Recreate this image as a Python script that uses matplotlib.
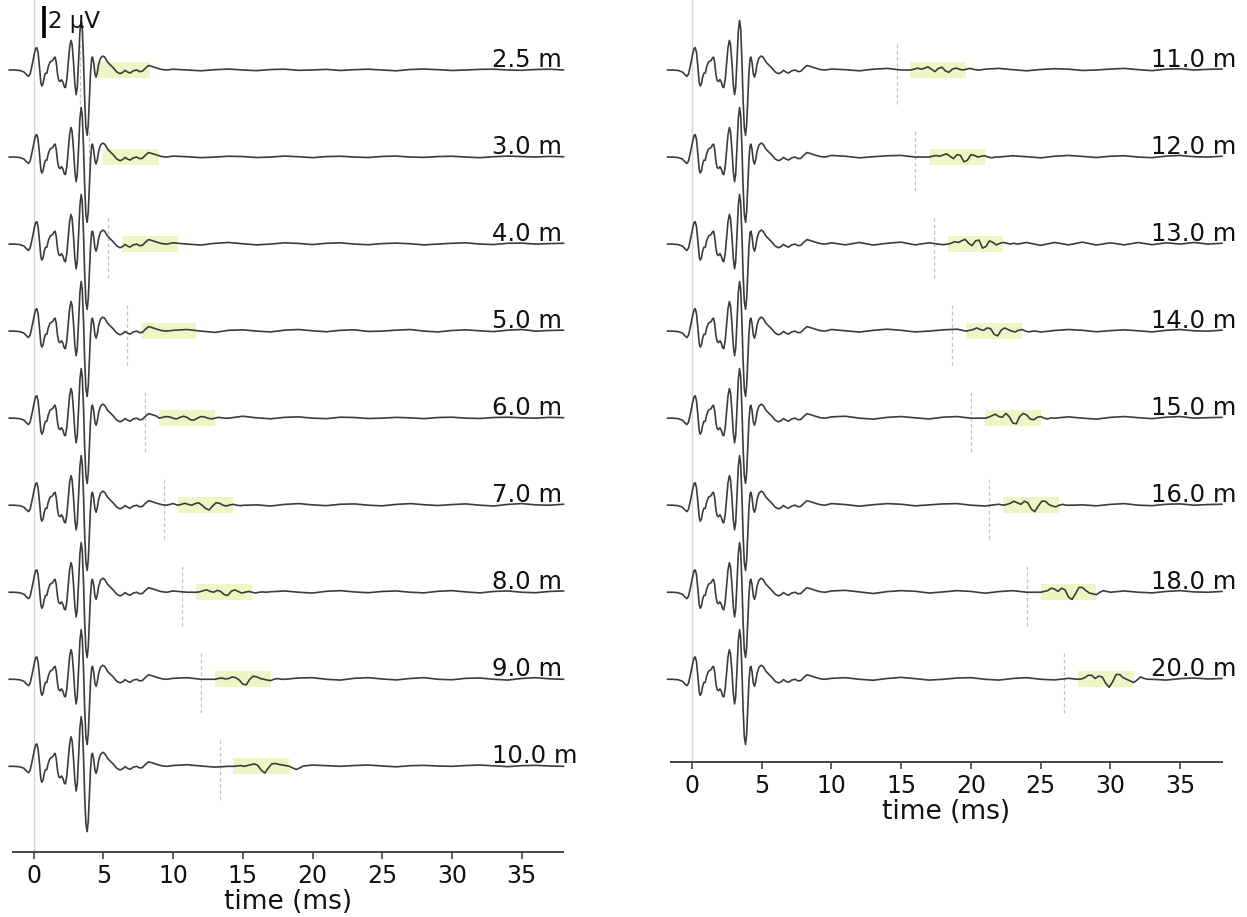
import numpy as np
import matplotlib.pyplot as plt
from matplotlib.patches import Rectangle

############################# settings ##################################
SOUND_SPEED = 1.5   # m/ms, echo delay = 2*d/c
OFFSET = 5.44       # uV between stacked traces
TRACE_COLOR = '#3c3c3c'
BOX_COLOR = '#eef6c6'

left_dist = [2.5, 3.0, 4.0, 5.0, 6.0, 7.0, 8.0, 9.0, 10.0]
right_dist = [11.0, 12.0, 13.0, 14.0, 15.0, 16.0, 18.0, 20.0]

############################# direct response (same on every trace) #####
direct_t = [-1.75, -1.4, -1.0, -0.7, -0.5, -0.37, -0.25, -0.1, 0.05, 0.15,
            0.23, 0.32, 0.42, 0.52, 0.59, 0.68, 0.76, 0.85, 0.95, 1.05,
            1.18, 1.28, 1.37, 1.46, 1.54, 1.62, 1.72, 1.8, 1.9, 2.0,
            2.1, 2.2, 2.28, 2.38, 2.48, 2.58, 2.68, 2.76, 2.86, 2.96,
            3.05, 3.13, 3.22, 3.32, 3.41, 3.49, 3.58, 3.66, 3.75, 3.84,
            3.92, 4.0, 4.08, 4.16, 4.22, 4.3, 4.4, 4.48, 4.56, 4.66,
            4.8, 4.96, 5.1, 5.3, 5.5, 5.7, 5.96, 6.2, 6.4, 6.56,
            6.72, 6.92, 7.15, 7.4, 7.6, 7.8, 8.0, 8.24, 8.5, 8.84,
            9.2, 9.56]
direct_uv = [0.0, 0.0, -0.03, -0.12, -0.3, -0.4, -0.25, 0.35, 1.0, 1.35,
             1.4, 1.1, 0.2, -0.8, -1.0, -0.85, -0.45, -0.2, -0.2, 0.2,
             0.5, 0.55, 0.6, 0.75, 0.81, 0.5, -0.3, -0.65, -0.72, -0.6,
             -0.75, -1.05, -1.1, -0.6, 0.4, 1.4, 1.85, 1.6, 0.5, -0.9,
             -1.54, -1.1, 0.5, 2.4, 3.1, 2.6, 0.6, -1.8, -3.6, -4.08,
             -3.4, -1.8, -0.2, 0.7, 0.81, 0.5, -0.25, -0.44, -0.2, 0.35,
             0.75, 0.875, 0.8, 0.5, 0.32, 0.15, -0.12, -0.23, -0.15, -0.02,
             -0.12, -0.19, -0.05, 0.0, -0.1, -0.08, 0.1, 0.28, 0.22, 0.12,
             0.03, 0.0]

############################# background (10..38 ms, 1 ms step) ##########
noise_t = list(range(10, 39))
noise_uv = {
    2.5:  [0.05, 0.0, -0.05, 0.02, 0.06, 0.0, -0.04, 0.03, 0.05, -0.02, 0.0, 0.04, -0.03, 0.02, 0.05, 0.0, -0.05, 0.03, 0.06, 0.02, -0.03, 0.0, 0.04, 0.05, 0.0, -0.02, 0.03, 0.05, 0.0],
    3.0:  [0.06, 0.02, -0.04, 0.0, 0.05, 0.03, -0.03, 0.0, 0.06, 0.02, -0.04, 0.03, 0.05, 0.0, -0.03, 0.04, 0.06, 0.0, -0.02, 0.03, 0.05, 0.0, -0.04, 0.02, 0.06, 0.03, 0.0, 0.04, 0.02],
    4.0:  [0.08, 0.0, -0.06, 0.05, 0.1, 0.02, -0.05, 0.0, 0.08, 0.04, -0.03, 0.05, 0.08, 0.0, -0.04, 0.03, 0.06, 0.02, -0.05, 0.0, 0.05, 0.08, 0.0, -0.03, 0.05, 0.06, 0.0, 0.03, 0.05],
    5.0:  [0.05, 0.1, 0.0, -0.08, 0.05, 0.08, 0.0, -0.05, 0.06, 0.1, 0.02, -0.04, 0.05, 0.08, -0.02, 0.0, 0.06, 0.1, 0.0, -0.05, 0.04, 0.08, 0.02, -0.03, 0.06, 0.1, 0.0, 0.04, 0.06],
    6.0:  [0.05, 0.08, 0.02, -0.05, 0.1, 0.12, 0.02, -0.04, 0.05, 0.08, 0.0, -0.03, 0.06, 0.04, -0.02, 0.0, 0.05, 0.02, -0.03, 0.04, 0.06, 0.0, -0.02, 0.04, 0.06, 0.02, 0.0, 0.05, 0.03],
    7.0:  [0.1, 0.05, -0.05, 0.0, 0.08, 0.1, 0.02, -0.05, 0.05, 0.1, 0.02, -0.03, 0.06, 0.08, 0.0, -0.04, 0.05, 0.1, 0.03, -0.02, 0.04, 0.08, 0.0, -0.05, 0.05, 0.1, 0.02, 0.0, 0.06],
    8.0:  [0.08, 0.0, -0.06, 0.05, 0.1, 0.02, -0.05, 0.03, 0.08, 0.0, -0.05, 0.06, 0.1, 0.02, -0.03, 0.05, 0.08, 0.0, -0.04, 0.06, 0.1, 0.02, -0.04, 0.05, 0.08, 0.0, -0.03, 0.05, 0.08],
    9.0:  [0.06, 0.1, 0.0, -0.08, 0.04, 0.1, 0.05, -0.04, 0.0, 0.08, 0.1, 0.0, -0.05, 0.06, 0.1, 0.02, -0.04, 0.05, 0.1, 0.0, -0.03, 0.06, 0.08, 0.0, -0.05, 0.05, 0.1, 0.03, 0.0],
    10.0: [0.05, 0.1, 0.02, -0.05, 0.0, 0.06, 0.1, 0.05, -0.03, 0.05, 0.08, 0.04, 0.0, 0.05, 0.08, 0.02, -0.03, 0.04, 0.06, 0.02, 0.0, 0.05, 0.08, 0.03, -0.02, 0.04, 0.06, 0.02, 0.0],
    11.0: [0.06, 0.02, -0.05, 0.05, 0.1, 0.0, -0.06, 0.04, 0.08, 0.02, -0.04, 0.05, 0.1, 0.02, -0.05, 0.03, 0.08, 0.05, -0.03, 0.0, 0.06, 0.1, 0.02, -0.04, 0.05, 0.08, 0.0, 0.04, 0.06],
    12.0: [0.1, 0.05, -0.05, 0.02, 0.08, 0.1, 0.0, -0.05, 0.06, 0.1, 0.03, -0.04, 0.04, 0.08, 0.02, -0.05, 0.05, 0.1, 0.04, -0.03, 0.05, 0.08, 0.0, -0.04, 0.06, 0.1, 0.02, 0.0, 0.05],
    13.0: [0.08, -0.05, 0.1, -0.06, 0.05, 0.12, -0.05, 0.08, -0.04, 0.1, -0.06, 0.08, 0.12, -0.04, 0.1, -0.08, 0.1, -0.05, 0.12, -0.06, 0.08, -0.05, 0.1, -0.04, 0.08, 0.0, 0.1, 0.0, 0.05],
    14.0: [0.1, 0.02, -0.06, 0.05, 0.12, 0.05, -0.05, 0.0, 0.08, 0.12, 0.02, -0.05, 0.05, 0.1, 0.0, -0.06, 0.04, 0.1, 0.05, -0.04, 0.03, 0.08, 0.02, -0.05, 0.05, 0.1, 0.02, 0.0, 0.06],
    15.0: [0.08, 0.12, 0.0, -0.06, 0.05, 0.1, 0.02, -0.05, 0.06, 0.1, 0.0, -0.05, 0.04, 0.1, 0.05, -0.04, 0.05, 0.08, 0.0, -0.06, 0.05, 0.1, 0.03, -0.03, 0.06, 0.1, 0.0, 0.03, 0.05],
    16.0: [0.1, 0.04, -0.06, 0.03, 0.1, 0.06, -0.04, 0.02, 0.08, 0.1, 0.0, -0.05, 0.06, 0.1, 0.02, -0.05, 0.04, 0.08, 0.02, -0.04, 0.05, 0.1, 0.0, -0.03, 0.06, 0.08, 0.0, 0.04, 0.06],
    18.0: [0.08, 0.12, 0.02, -0.08, 0.04, 0.1, 0.06, -0.05, 0.02, 0.1, 0.05, -0.06, 0.04, 0.1, 0.0, -0.05, 0.05, 0.1, 0.02, -0.05, 0.04, 0.08, 0.0, -0.04, 0.05, 0.1, 0.02, 0.0, 0.05],
    20.0: [0.06, 0.1, 0.0, -0.06, 0.05, 0.12, 0.04, -0.05, 0.0, 0.08, 0.1, 0.0, -0.05, 0.05, 0.1, 0.0, -0.04, 0.06, 0.12, 0.02, -0.03, 0.05, 0.1, 0.0, -0.05, 0.04, 0.08, 0.02, 0.05],
}

############################# echo wavelets (time after echo delay) ######
echo_rel_t = [1.0, 1.25, 1.5, 1.75, 2.0, 2.25, 2.5, 2.75, 3.0, 3.25, 3.5,
              3.75, 4.0, 4.25, 4.5, 4.75, 5.0, 5.25, 5.5, 5.75, 6.0]
echo_uv = {
    6.0:  [0.0, 0.05, 0.1, 0.08, 0.0, -0.05, 0.05, 0.12, 0.05, -0.1, -0.12, 0.0, 0.1, 0.08, 0.0, -0.05, 0.0, 0.05, 0.02, 0.0, 0.0],
    7.0:  [0.0, 0.05, 0.12, 0.05, 0.0, 0.1, 0.15, 0.0, -0.2, -0.3, -0.05, 0.15, 0.12, 0.0, -0.05, 0.02, 0.05, 0.0, -0.03, 0.0, 0.0],
    8.0:  [0.0, 0.03, 0.1, 0.15, 0.05, 0.0, 0.12, 0.05, -0.15, -0.2, 0.05, 0.15, 0.05, -0.05, 0.0, 0.05, 0.0, -0.05, 0.0, 0.02, 0.0],
    9.0:  [0.0, 0.05, 0.08, 0.02, 0.05, 0.15, 0.1, -0.05, -0.3, -0.35, 0.0, 0.2, 0.15, 0.05, 0.0, -0.05, -0.08, 0.0, 0.05, 0.0, 0.0],
    10.0: [0.0, 0.02, 0.05, 0.0, 0.05, 0.1, 0.15, 0.05, -0.25, -0.42, -0.1, 0.15, 0.18, 0.12, 0.08, 0.05, 0.0, -0.1, -0.2, -0.1, 0.02],
    11.0: [0.0, 0.05, 0.12, 0.05, 0.1, 0.2, 0.05, -0.1, 0.1, 0.18, -0.05, -0.15, 0.05, 0.12, 0.05, 0.0, 0.05, 0.1, 0.05, 0.0, 0.0],
    12.0: [0.0, 0.05, 0.1, 0.05, 0.12, 0.2, 0.05, -0.1, 0.15, 0.1, -0.3, -0.2, 0.15, 0.1, 0.0, 0.05, 0.08, 0.0, -0.05, 0.0, 0.0],
    13.0: [0.0, 0.05, 0.15, 0.1, 0.2, 0.3, 0.05, -0.1, 0.2, 0.25, -0.25, -0.15, 0.2, 0.1, -0.05, 0.05, 0.1, 0.05, 0.0, 0.05, 0.0],
    14.0: [0.0, 0.05, 0.1, 0.2, 0.1, 0.05, 0.2, 0.15, -0.2, -0.3, 0.05, 0.2, 0.1, 0.0, -0.05, 0.05, 0.1, 0.0, -0.05, 0.0, 0.0],
    15.0: [0.0, 0.05, 0.15, 0.25, 0.1, 0.05, 0.3, 0.1, -0.3, -0.35, 0.1, 0.3, 0.2, -0.05, -0.1, 0.05, 0.1, 0.0, -0.05, 0.02, 0.0],
    16.0: [0.0, 0.05, 0.12, 0.25, 0.15, 0.05, 0.25, 0.15, -0.25, -0.4, -0.05, 0.25, 0.25, 0.05, -0.05, -0.1, 0.0, 0.05, 0.0, 0.0, 0.0],
    18.0: [0.0, 0.05, 0.1, 0.25, 0.2, 0.05, 0.25, 0.15, -0.3, -0.45, -0.1, 0.3, 0.3, 0.1, -0.05, -0.1, -0.15, 0.0, 0.1, 0.05, 0.0],
    20.0: [0.0, 0.02, 0.1, 0.25, 0.25, 0.05, 0.2, 0.15, -0.25, -0.5, -0.15, 0.3, 0.3, 0.1, 0.0, -0.1, -0.2, -0.05, 0.15, 0.05, 0.0],
}

x_ticks = [0, 5, 10, 15, 20, 25, 30, 35]


def build_trace(d):
    te = 2 * d / SOUND_SPEED
    t_d = np.array(direct_t)
    v_d = np.array(direct_uv)
    t_n = np.array(noise_t, dtype=float)
    v_n = np.array(noise_uv[d])
    if d in echo_uv:
        t_e = te + np.array(echo_rel_t)
        v_e = np.array(echo_uv[d])
        keep_d = t_d < t_e[0]
        keep_n = (t_n > max(t_e[-1], t_d[keep_d][-1])) | \
                 ((t_n < t_e[0]) & (t_n > t_d[keep_d][-1]))
        t = np.concatenate([t_d[keep_d], t_e, t_n[keep_n]])
        v = np.concatenate([v_d[keep_d], v_e, v_n[keep_n]])
    else:
        t = np.concatenate([t_d, t_n])
        v = np.concatenate([v_d, v_n])
    order = np.argsort(t)
    return t[order], v[order], te


def draw_panel(ax, dists):
    ax.axvline(0, color='#d4d4d4', lw=1.0, zorder=0)
    for i, d in enumerate(dists):
        off = -i * OFFSET
        t, v, te = build_trace(d)
        ax.add_patch(Rectangle((te + 1.0, off - 0.5), 4.0, 1.0,
                               facecolor=BOX_COLOR, edgecolor='none', zorder=1))
        ax.plot([te, te], [off - 2.1, off + 1.7], color='#c4c4c4', lw=0.9,
                ls=(0, (3, 2)), zorder=1)
        ax.plot(t, v + off, color=TRACE_COLOR, lw=1.2, zorder=3, clip_on=False)
        ax.text(32.9, off + 0.2, '%.1f m' % d, fontsize=17.5, ha='left',
                va='baseline', color='#111111', zorder=4, clip_on=False)

    ax.set_xlim(-1.5, 38)
    ax.set_xticks(x_ticks)
    ax.set_yticks([])
    for s in ['left', 'top', 'right']:
        ax.spines[s].set_visible(False)
    ax.spines['bottom'].set_color('#444444')
    ax.spines['bottom'].set_linewidth(1.4)
    ax.tick_params(axis='x', labelsize=17, length=5, width=1.2,
                   color='#444444', labelcolor='#111111')
    ax.set_xlabel('time (ms)', fontsize=19, color='#111111', labelpad=1)
    ax.patch.set_alpha(0)


fig = plt.figure(figsize=(12.47, 9.17), dpi=100)
W, H = 1247.0, 917.0

ax1 = fig.add_axes([12.7 / W, (H - 852) / H, 550.8 / W, 852 / H])
ax2 = fig.add_axes([671.1 / W, (H - 762) / H, 550.8 / W, 762 / H])

draw_panel(ax1, left_dist)
draw_panel(ax2, right_dist)

ax1.set_ylim(4.375 - 852 / 16.0, 4.375)
ax2.set_ylim(4.375 - 762 / 16.0, 4.375)

# scale bar
ax1.plot([0.75, 0.75], [2.0, 4.0], color='black', lw=2.6, zorder=5,
         solid_capstyle='butt')
ax1.text(1.0, 3.05, '2 μV', fontsize=16.5, ha='left', va='center',
         color='#111111', zorder=5)

fig.savefig('out.png', dpi=100)
